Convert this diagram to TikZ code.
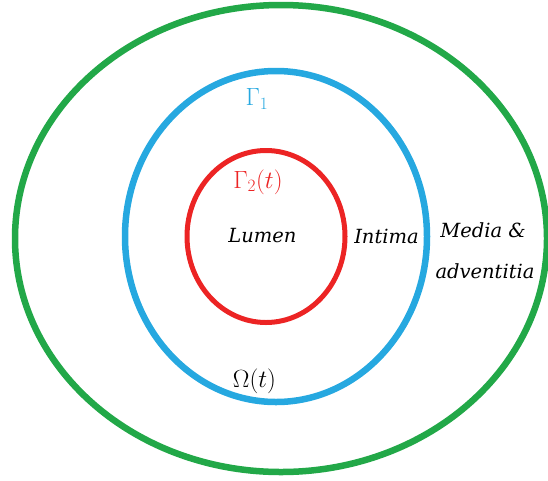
\documentclass[tikz,border=0pt]{standalone}
\usepackage{fontspec}
\setmainfont{DejaVu Serif}
\definecolor{cgreen}{RGB}{34,168,72}
\definecolor{cblue}{RGB}{38,168,224}
\definecolor{cred}{RGB}{236,36,36}
\begin{document}
\begin{tikzpicture}[x=1pt,y=-1pt,
  lbl/.style={font=\fontsize{19.5}{23}\selectfont\itshape, inner sep=0pt, anchor=base},
  mlbl/.style={font=\fontsize{24}{28}\selectfont, inner sep=0pt}]
\useasboundingbox (0,0) rectangle (548,480);
\draw[cgreen, line width=6.5pt] (281,238.5) ellipse [x radius=266, y radius=233.5];
\draw[cblue, line width=6.5pt] (276,236.5) ellipse [x radius=151, y radius=165.5];
\draw[cred, line width=5pt] (266,236.5) ellipse [x radius=79, y radius=86];
\node[mlbl, text=cblue] (g1) at (257,99) {$\Gamma_1$};
\node[mlbl, text=cred] (g2) at (258,182) {$\Gamma_2(t)$};
\node[mlbl] (om) at (254.5,381) {$\Omega(t)$};
\node[lbl] (lumen) at (262.5,242) {Lumen};
\node[lbl] (intima) at (386.5,243) {Intima};
\node[lbl] (media) at (483,237) {Media \&};
\node[lbl] (adv) at (485,278) {adventitia};
\end{tikzpicture}
\end{document}
